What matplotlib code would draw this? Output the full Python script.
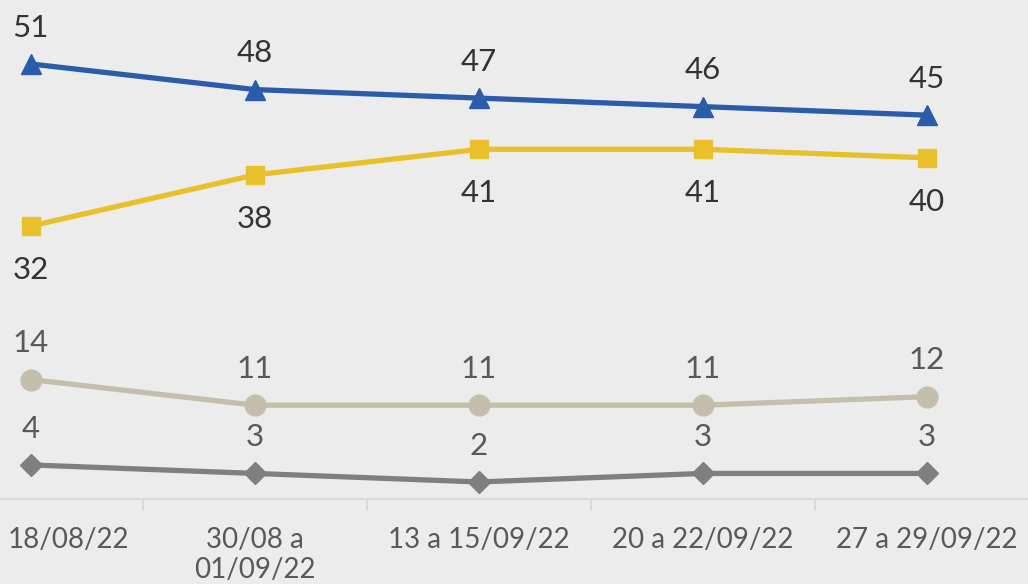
import matplotlib.pyplot as plt
import matplotlib.transforms as mtransforms
import numpy as np

plt.rcParams['font.family'] = ['Lato', 'DejaVu Sans']

categorias = ['18/08/22', '30/08 a\n01/09/22', '13 a 15/09/22', '20 a 22/09/22', '27 a 29/09/22']
azul = [51, 48, 47, 46, 45]
amarelo = [32, 38, 41, 41, 40]
bege = [14, 11, 11, 11, 12]
cinza = [4, 3, 2, 3, 3]

bg = '#ececec'
x = np.arange(len(categorias))

fig = plt.figure(figsize=(10.28, 5.84), dpi=100, facecolor=bg)
ax = fig.add_axes([0, 0.1455, 1, 0.8545], facecolor=bg)

series = [
    (azul, '#2a5caa', '^', 15, 'above', '#333333'),
    (amarelo, '#e8c12a', 's', 13, 'below', '#333333'),
    (bege, '#c4bfad', 'o', 15, 'above', '#595959'),
    (cinza, '#7f7f7f', 'D', 11, 'above', '#595959'),
]
for vals, col, mk, ms, pos, tcol in series:
    ax.plot(x, vals, color=col, lw=3.8, marker=mk, ms=ms, zorder=3)
    for xi, v in zip(x, vals):
        off = 28 if pos == 'above' else -30
        ax.annotate(str(v), (xi, v), xytext=(0, off), textcoords='offset points',
                    ha='center', va='center_baseline', fontsize=22.5, color=tcol)

ax.set_xlim(-0.138, 4.451)
ax.set_ylim(0, 58.5)
ax.set_yticks([])
for s in ['top', 'right', 'left']:
    ax.spines[s].set_visible(False)
ax.spines['bottom'].set_color('#d9d9d9')
ax.spines['bottom'].set_linewidth(1.5)

ax.set_xticks(x)
ax.set_xticklabels(categorias, fontsize=20, color='#595959', linespacing=1.2)
ax.tick_params(axis='x', which='major', length=0, pad=20)
ax.set_xticks(x[:-1] + 0.5, minor=True)
ax.tick_params(axis='x', which='minor', length=8, color='#d9d9d9', width=1.5)

# o primeiro rótulo fica encostado à esquerda, como no original
primeiro = ax.get_xticklabels()[0]
primeiro.set_ha('left')
primeiro.set_transform(primeiro.get_transform() +
                       mtransforms.ScaledTranslation(-0.23, 0, fig.dpi_scale_trans))

fig.savefig('out.png', dpi=100, facecolor=bg)
